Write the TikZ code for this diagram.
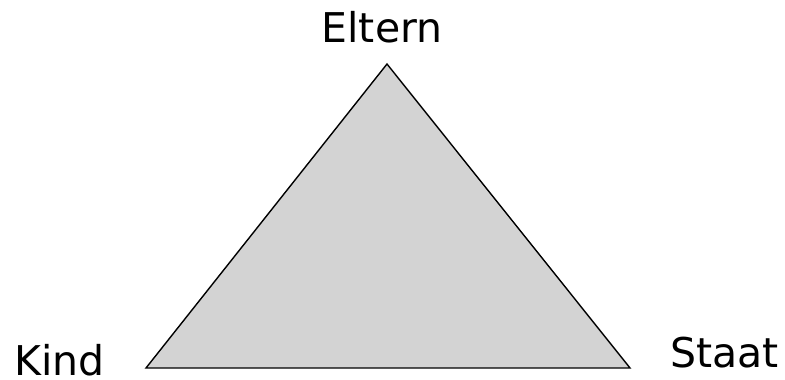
\documentclass[tikz,border=0pt]{standalone}
\usepackage{fontspec}
\setmainfont{DejaVu Sans}
\begin{document}
\begin{tikzpicture}[x=1pt,y=-1pt,
  lbl/.style={inner sep=0pt,font=\fontsize{41}{41}\selectfont},
  tri/.style={draw=black,line width=1.4pt,fill={rgb,255:red,211;green,211;blue,211},line join=miter}]
\useasboundingbox (0,0) rectangle (785,380);
\coordinate (top) at (387,64);
\coordinate (bl) at (146,368);
\coordinate (br) at (630,368);
\draw[tri] (top) -- (bl) -- (br) -- cycle;
\node[lbl,anchor=base] (eltern) at (382,42) {Eltern};
\node[lbl,anchor=base west] (kind) at (14,375) {Kind};
\node[lbl,anchor=base west] (staat) at (670,367) {Staat};
\end{tikzpicture}
\end{document}
